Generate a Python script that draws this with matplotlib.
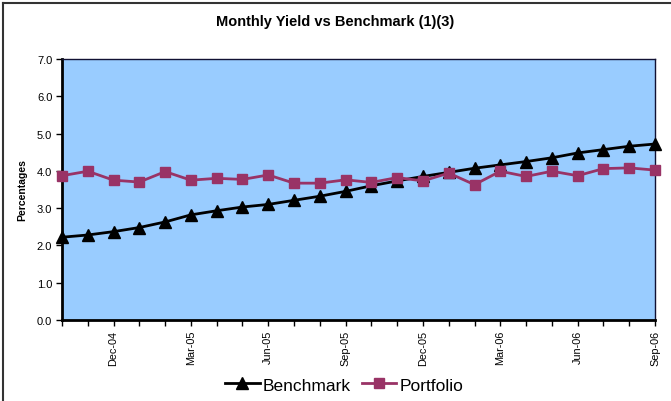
import matplotlib
matplotlib.use("Agg")
import matplotlib.pyplot as plt
from matplotlib.lines import Line2D

months = ["Oct-04", "Nov-04", "Dec-04", "Jan-05", "Feb-05", "Mar-05", "Apr-05", "May-05",
          "Jun-05", "Jul-05", "Aug-05", "Sep-05", "Oct-05", "Nov-05", "Dec-05", "Jan-06",
          "Feb-06", "Mar-06", "Apr-06", "May-06", "Jun-06", "Jul-06", "Aug-06", "Sep-06"]
benchmark = [2.22, 2.28, 2.37, 2.48, 2.63, 2.82, 2.93, 3.03, 3.10, 3.21, 3.32, 3.45,
             3.60, 3.73, 3.85, 3.96, 4.07, 4.16, 4.25, 4.35, 4.48, 4.57, 4.66, 4.72]
portfolio = [3.87, 3.99, 3.75, 3.70, 3.98, 3.75, 3.80, 3.77, 3.89, 3.67, 3.67, 3.76,
             3.69, 3.82, 3.73, 3.94, 3.63, 3.99, 3.85, 3.99, 3.87, 4.06, 4.08, 4.02]
labeled = ["Dec-04", "Mar-05", "Jun-05", "Sep-05", "Dec-05", "Mar-06", "Jun-06", "Sep-06"]
yticks = [0, 1, 2, 3, 4, 5, 6, 7]

plt.rcParams['font.family'] = ['Liberation Sans', 'DejaVu Sans']

fig = plt.figure(figsize=(6.71, 4.02), dpi=100)
ax = fig.add_axes([62/671, 1-321/402, (655-62)/671, (321-60)/402])
ax.set_facecolor("#99CCFF")

x = list(range(len(months)))
ax.plot(x, benchmark, color="black", lw=2, marker="^", markersize=8, label="Benchmark", clip_on=False, zorder=3)
ax.plot(x, portfolio, color="#993366", lw=2, marker="s", markersize=7.5, label="Portfolio", clip_on=False, zorder=3)

ax.set_xlim(0, len(months)-1)
ax.set_ylim(0, 7)
ax.set_yticks(yticks)
ax.set_yticklabels([f"{v:.1f}" for v in yticks], fontsize=8)
ax.set_xticks(x)
ax.set_xticklabels([m if m in labeled else "" for m in months], rotation=90, fontsize=7.8)
ax.tick_params(axis="both", direction="out", length=4, width=1, color="black", pad=3)
ax.set_ylabel("Percentages", fontsize=7.5, fontweight="bold", labelpad=7)

for s in ["left", "bottom"]:
    ax.spines[s].set_linewidth(2)
for s in ["top", "right"]:
    ax.spines[s].set_linewidth(1)
    ax.spines[s].set_color("#111133")

fig.text(0.5, 1-22/402, "Monthly Yield vs Benchmark (1)(3)", ha="center", va="center",
         fontsize=10.5, fontweight="bold")

handles = [Line2D([0], [0], color="black", lw=2, marker="^", markersize=8),
           Line2D([0], [0], color="#993366", lw=2, marker="s", markersize=7.5)]
fig.legend(handles, ["Benchmark", "Portfolio"], loc="center", bbox_to_anchor=(0.513, 1-386/402),
           ncol=2, frameon=False, fontsize=12.5, handlelength=2.0, handletextpad=0.2, columnspacing=0.6)

fig.add_artist(Line2D([3/671, 1], [1-4/402, 1-4/402], color="#333333", lw=1.5, transform=fig.transFigure))
fig.add_artist(Line2D([3/671, 3/671], [0, 1-4/402], color="#333333", lw=1.5, transform=fig.transFigure))

fig.savefig("out.png", dpi=100)
